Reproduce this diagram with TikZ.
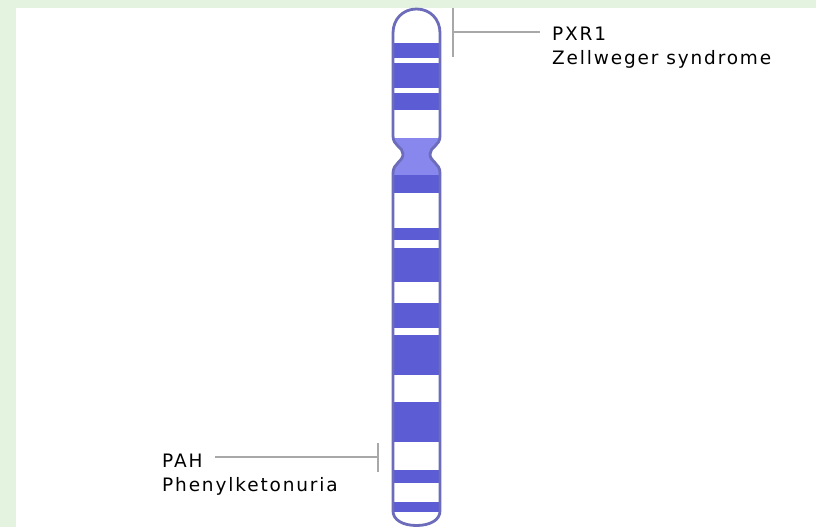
\documentclass[tikz,border=0pt]{standalone}
\usepackage{fontspec}
\usepackage{tikz}
\usetikzlibrary{calc}
\newfontfamily\labelfont{DejaVu Sans}[LetterSpace=10]
\definecolor{PageGreen}{RGB}{227,243,223}
\definecolor{BandDark}{RGB}{92,92,212}
\definecolor{BandLight}{RGB}{135,135,238}
\definecolor{ChromoEdge}{RGB}{108,108,186}
\definecolor{LeaderGray}{RGB}{168,168,168}

%% outline of the chromosome, in pixel units (y grows downwards)
\def\chromooutline{(393,136) -- (393,33)
    .. controls (393,19) and (403,9) .. (416.5,9)
    .. controls (430,9) and (440,19) .. (440,33)
    -- (440,136)
    .. controls (440,146) and (430,147) .. (430,154)
    .. controls (430,162) and (440,163) .. (440,173)
    -- (440,511)
    .. controls (440,520) and (430,525.5) .. (416.5,525.5)
    .. controls (403,525.5) and (393,520) .. (393,511)
    -- (393,173)
    .. controls (393,163) and (403,162) .. (403,154)
    .. controls (403,147) and (393,146) .. (393,136) -- cycle}

\tikzset{
  band/.style={fill=BandDark},
  edge/.style={draw=ChromoEdge, line width=2.8pt},
  leader/.style={draw=LeaderGray, line width=1.6pt},
  tag/.style={font=\labelfont\fontsize{18.5}{24}\selectfont, text=black, inner sep=0pt}
}

\begin{document}
\begin{tikzpicture}[x=1pt,y=-1pt]
    \useasboundingbox (0,0) rectangle (816,527);
    \fill[PageGreen] (0,0) rectangle (816,527);
    \fill[white] (16,8) rectangle (816,527);

    %%Chromosome body
    \fill[white] \chromooutline;
    \begin{scope}
        \clip \chromooutline;
        \fill[BandLight] (380,138) rectangle (450,176);
        \foreach \a/\b in {43/58, 63/88, 93/110,
                           175/193, 228/240, 248/282, 303/328, 335/375,
                           402/442, 470/483, 502/512}
            \fill[band] (380,\a) rectangle (450,\b);
    \end{scope}
    \draw[edge] \chromooutline;

    %%Upper marker
    \coordinate (ptop) at (453,8);
    \coordinate (pbot) at (453,57);
    \coordinate (pmid) at (453,32);
    \draw[leader] (ptop) -- (pbot);
    \node[tag, anchor=base west] (pxr) at (552,41) {PXR1};
    \node[tag, anchor=base west] (zell) at ([yshift=-24pt]pxr.base west) {Zellweger syndrome};
    \draw[leader] (pmid) -- ($(pmid -| pxr.west)+(-12,0)$);

    %%Lower marker
    \coordinate (qtop) at (378,443);
    \coordinate (qbot) at (378,472);
    \coordinate (qmid) at (378,457);
    \draw[leader] (qtop) -- (qbot);
    \node[tag, anchor=base west] (pah) at (162,467) {PAH};
    \node[tag, anchor=base west] (pku) at ([yshift=-24pt]pah.base west) {Phenylketonuria};
    \draw[leader] (qmid) -- ($(qmid -| pah.east)+(12,0)$);
\end{tikzpicture}
\end{document}
